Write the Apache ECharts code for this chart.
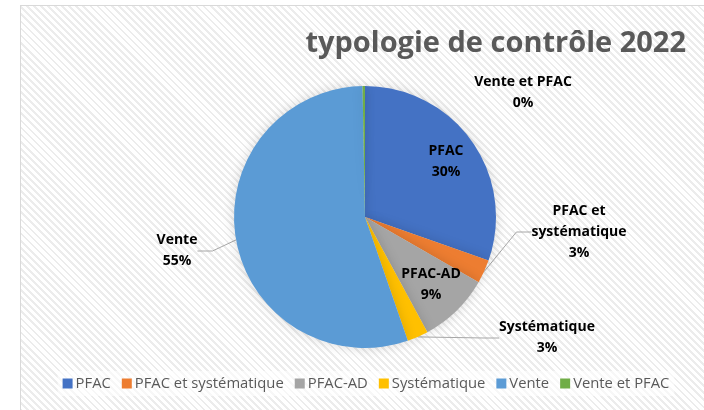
<!DOCTYPE html>
<html>
<head>
<meta charset="utf-8">
<script src="https://cdn.jsdelivr.net/npm/echarts@6/dist/echarts.min.js"></script>
<style>
  html, body { margin: 0; padding: 0; background: #fff; }
  #frame {
    position: absolute; left: 20px; top: 5px; width: 690px; height: 410px;
    border: 1px solid #d9d9d9;
    background: repeating-linear-gradient(45deg, #ffffff 0px, #ffffff 3px, #ececec 3px, #ececec 5px);
  }
  #chart { width: 690px; height: 410px; }
</style>
</head>
<body>
<div id="frame"><div id="chart"></div></div>
<script>
// categories et parts (en %)
const categories = ['PFAC', 'PFAC et systématique', 'PFAC-AD', 'Systématique', 'Vente', 'Vente et PFAC']
const values = [30.4, 2.9, 8.8, 2.6, 55.0, 0.3]
const colors = ['#4472C4', '#ED7D31', '#A5A5A5', '#FFC000', '#5B9BD5', '#70AD47']
const insideLabels = ['PFAC', 'PFAC-AD']
const labelNames = {
  'PFAC et systématique': 'PFAC et\nsystématique'
}
// où Excel a posé les étiquettes (centre du texte)
const labelSpots = {
  'PFAC': [425, 156],
  'PFAC-AD': [410, 279],
  'PFAC et systématique': [558, 226],
  'Systématique': [526, 332],
  'Vente': [156, 245],
  'Vente et PFAC': [502, 87]
}

const font = 'Open Sans'
const chart = echarts.init(document.getElementById('chart'))

const data = categories.map((name, i) => {
  const inside = insideLabels.indexOf(name) >= 0
  return {
    name,
    value: values[i],
    itemStyle: { color: colors[i] },
    label: { position: inside ? 'inside' : 'outside' },
    labelLine: { show: !inside && name !== 'Vente et PFAC' }
  }
})

const options = {
  textStyle: { fontFamily: font },
  title: {
    text: 'typologie de contrôle 2022',
    right: 20,
    top: 18,
    textStyle: { fontFamily: font, fontSize: 29, fontWeight: 'bold', color: '#595959' }
  },
  legend: {
    bottom: 20,
    left: 'center',
    itemWidth: 10,
    itemHeight: 10,
    itemGap: 11,
    icon: 'rect',
    backgroundColor: 'rgba(255,255,255,0.6)',
    textStyle: { fontFamily: font, fontSize: 14.8, color: '#595959', padding: [0, 0, 0, -2] },
    data: categories
  },
  series: [
    {
      type: 'pie',
      center: [344, 211],
      radius: 131,
      startAngle: 90,
      clockwise: true,
      percentPrecision: 0,
      avoidLabelOverlap: false,
      itemStyle: { shadowBlur: 12, shadowColor: 'rgba(0,0,0,0.15)' },
      label: {
        formatter: p => (labelNames[p.name] || p.name) + '\n' + p.percent + '%',
        fontFamily: font,
        fontSize: 14,
        fontWeight: 'bold',
        color: '#000',
        lineHeight: 21,
        align: 'center'
      },
      labelLine: {
        length: 25,
        length2: 15,
        lineStyle: { color: '#a6a6a6', width: 1 }
      },
      labelLayout: params => {
        const spot = labelSpots[categories[params.dataIndex]]
        if (!spot) return {}
        return { x: spot[0], y: spot[1], align: 'center', verticalAlign: 'middle' }
      },
      data
    }
  ]
}

chart.setOption(options)
window.addEventListener('resize', chart.resize)
</script>
</body>
</html>
